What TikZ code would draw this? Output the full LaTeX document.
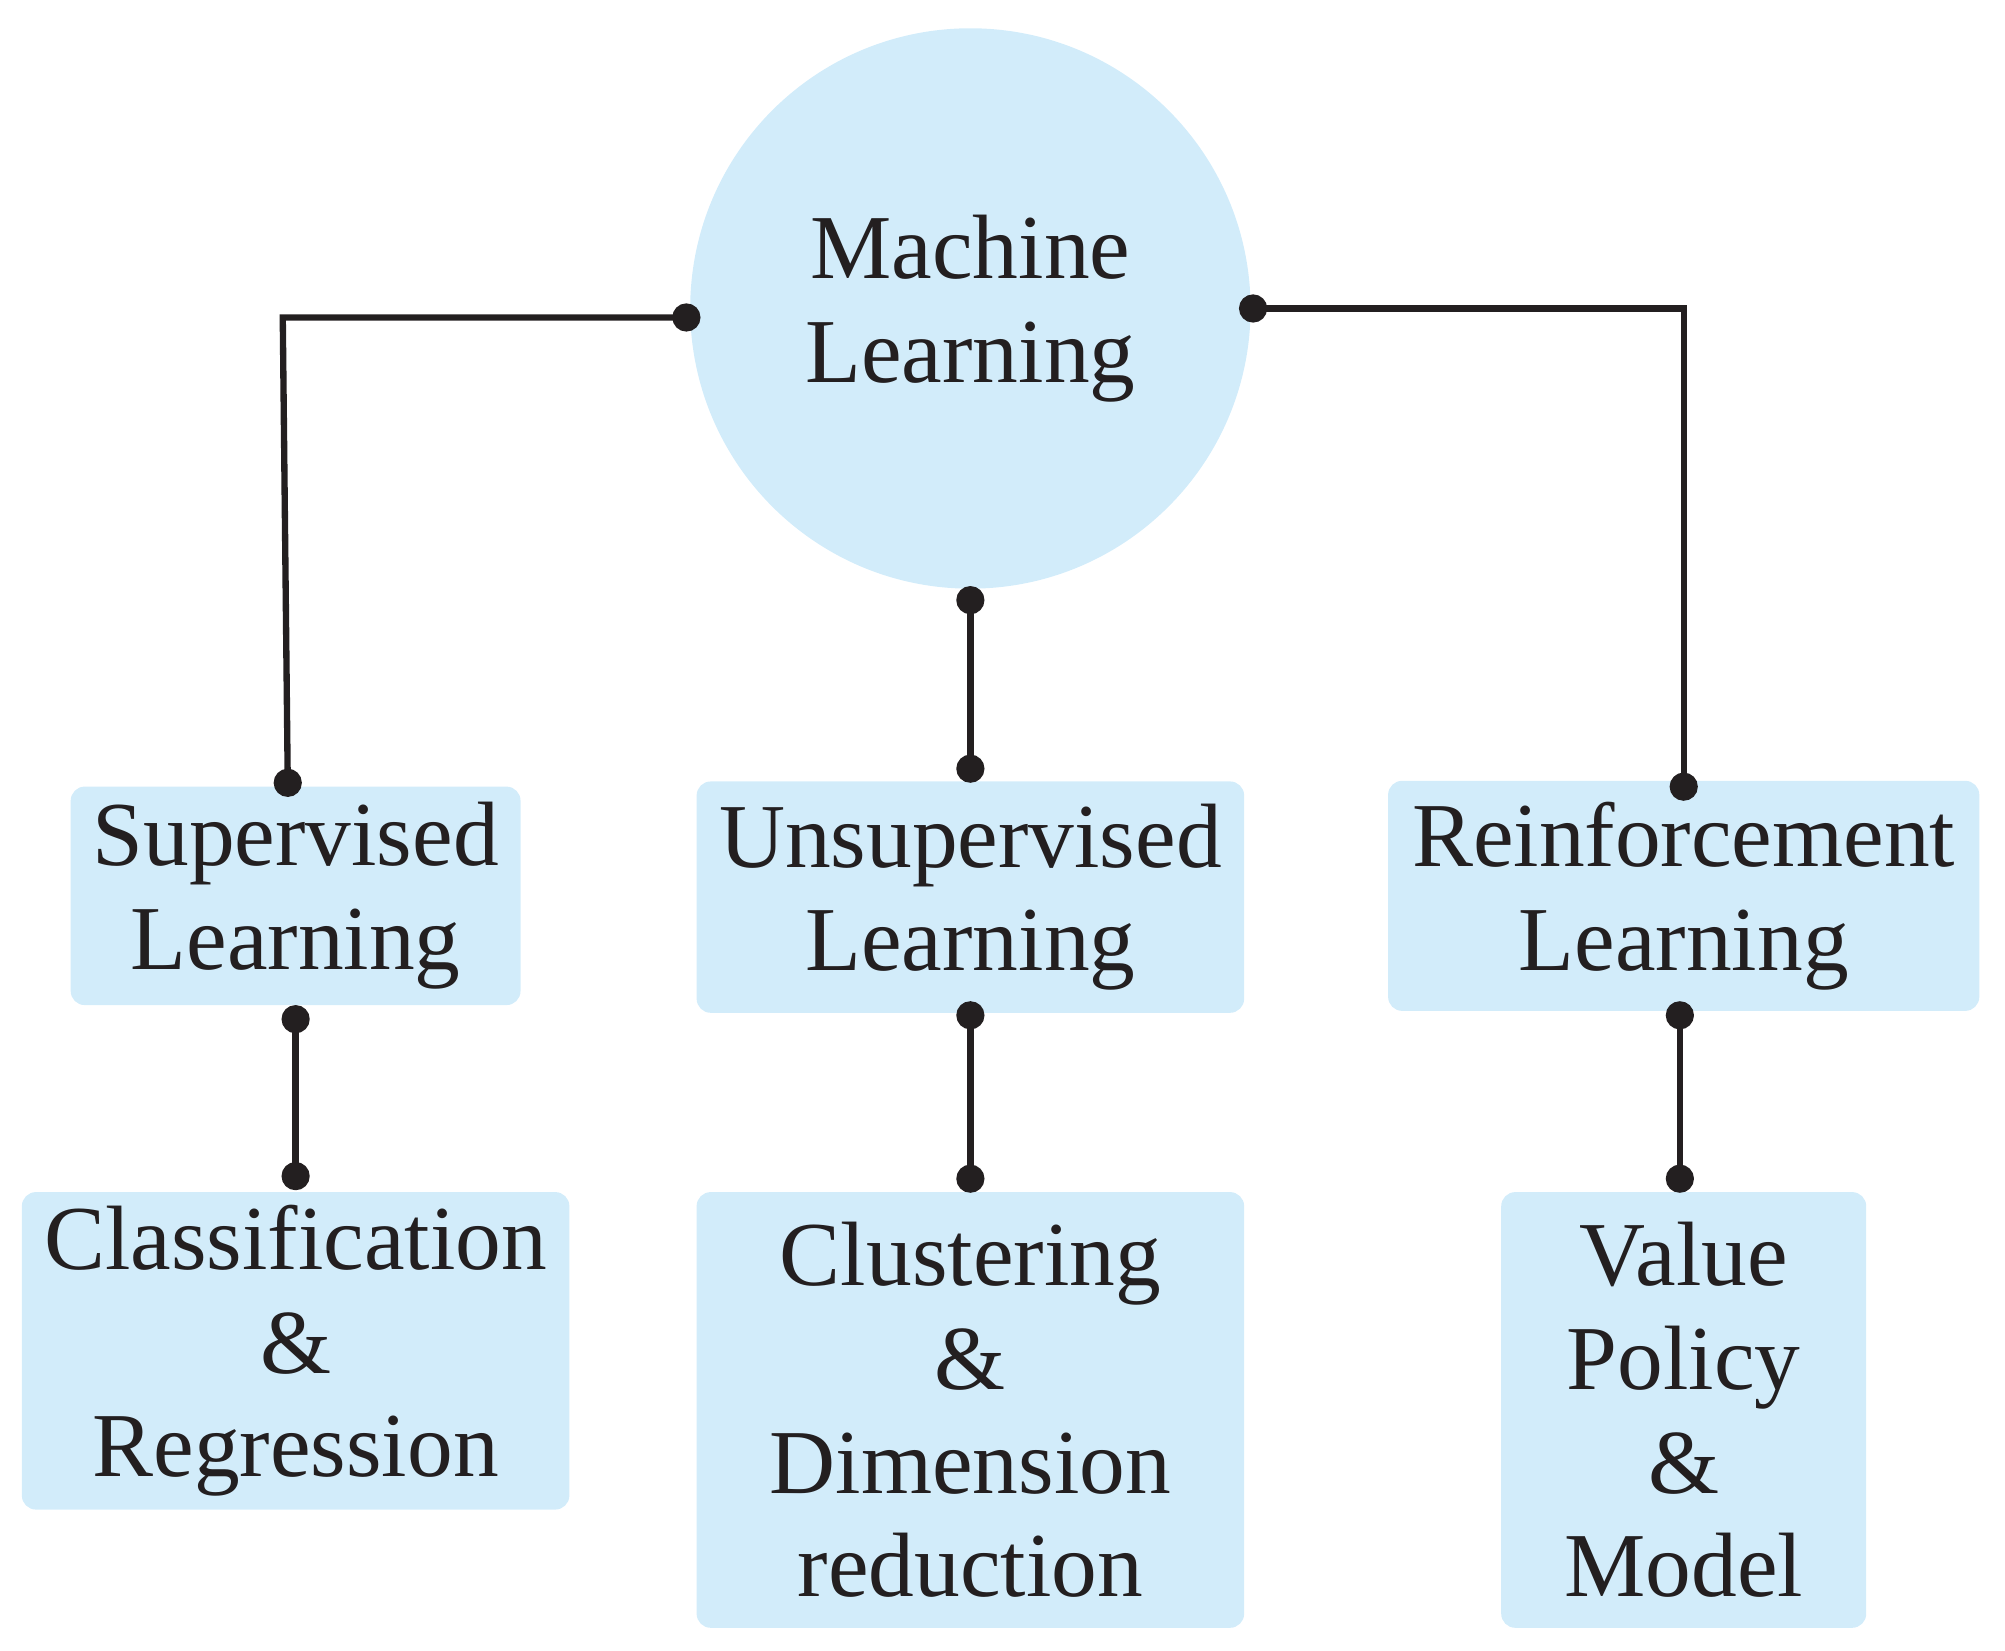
\documentclass[tikz,border=0pt]{standalone}
\usepackage{fontspec}
\setmainfont{Liberation Serif}
\usetikzlibrary{arrows.meta, positioning}
\definecolor{boxblue}{RGB}{210,236,250}
\definecolor{linegray}{RGB}{35,31,32}
\begin{document}
\begin{tikzpicture}[x=0.01285cm, y=-0.01285cm]
	\tikzset{box/.style={fill=boxblue, rounded corners=4pt, inner sep=0pt, align=center, font=\fontsize{26}{29.5}\selectfont, text=linegray}}
	\tikzset{link/.style={{Circle[length=8pt]}-{Circle[length=8pt]}, line width=1.8pt, draw=linegray}}

	\useasboundingbox (0,0) rectangle (1560,1284);

	% Root
	\node (ml) [box, circle, minimum size=436*0.01285cm] at (755,240) {Machine\\Learning};

	% Second level
	\node (sup) [box, minimum width=350*0.01285cm, minimum height=170*0.01285cm] at (230,697) {Supervised\\Learning};
	\node (unsup) [box, minimum width=426*0.01285cm, minimum height=180*0.01285cm] at (755,698) {Unsupervised\\Learning};
	\node (rein) [box, minimum width=460*0.01285cm, minimum height=179*0.01285cm] at (1310,697) {Reinforcement\\Learning};

	% Third level
	\node (cls) [box, minimum width=426*0.01285cm, minimum height=247*0.01285cm] at (230,1051) {Classification\\\&\\Regression};
	\node (clu) [box, minimum width=426*0.01285cm, minimum height=339*0.01285cm] at (755,1097) {Clustering\\\&\\Dimension\\reduction};
	\node (val) [box, minimum width=284*0.01285cm, minimum height=339*0.01285cm] at (1310,1097) {Value\\Policy\\\&\\Model};

	% Connector ends
	\coordinate (mlW) at (545,247);
	\coordinate (mlE) at (964,240);
	\coordinate (mlS) at (755,456);
	\coordinate (supN) at (224,620);
	\coordinate (unsupN) at (755,609);
	\coordinate (reinN) at (1310,623);
	\coordinate (supS) at (230,782);
	\coordinate (unsupS) at (755,779);
	\coordinate (reinS) at (1307,779);
	\coordinate (clsN) at (230,926);
	\coordinate (cluN) at (755,928);
	\coordinate (valN) at (1307,928);

	% Links
	\draw [link] (mlW) -- (220,247) -- (supN);
	\draw [link] (mlS) -- (unsupN);
	\draw [link] (mlE) -- (1310,240) -- (reinN);
	\draw [link] (supS) -- (clsN);
	\draw [link] (unsupS) -- (cluN);
	\draw [link] (reinS) -- (valN);
\end{tikzpicture}
\end{document}
